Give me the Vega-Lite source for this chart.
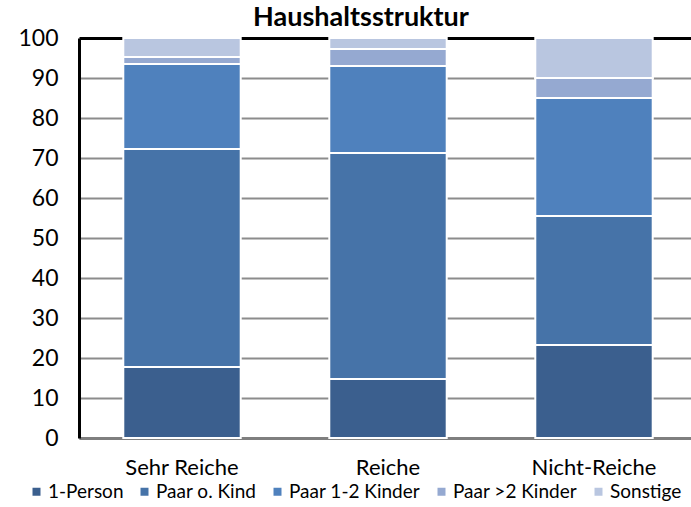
{
  "$schema": "https://vega.github.io/schema/vega-lite/v6.json",
  "autosize": "none",
  "width": 618,
  "height": 400,
  "padding": {"left": 79, "top": 38, "right": 0, "bottom": 69},
  "background": "white",
  "title": {
    "text": "Haushaltsstruktur",
    "font": "Lato",
    "fontSize": 27,
    "fontWeight": "bold",
    "color": "black",
    "anchor": "middle",
    "dx": -27,
    "dy": 8,
    "offset": 3
  },
  "data": {
    "values": [
      {"gruppe": "Sehr Reiche", "typ": "1-Person", "k": 1, "anteil": 17.75},
      {"gruppe": "Sehr Reiche", "typ": "Paar o. Kind", "k": 2, "anteil": 54.5},
      {"gruppe": "Sehr Reiche", "typ": "Paar 1-2 Kinder", "k": 3, "anteil": 21.25},
      {"gruppe": "Sehr Reiche", "typ": "Paar >2 Kinder", "k": 4, "anteil": 1.75},
      {"gruppe": "Sehr Reiche", "typ": "Sonstige", "k": 5, "anteil": 4.75},
      {"gruppe": "Reiche", "typ": "1-Person", "k": 1, "anteil": 14.75},
      {"gruppe": "Reiche", "typ": "Paar o. Kind", "k": 2, "anteil": 56.5},
      {"gruppe": "Reiche", "typ": "Paar 1-2 Kinder", "k": 3, "anteil": 21.75},
      {"gruppe": "Reiche", "typ": "Paar >2 Kinder", "k": 4, "anteil": 4.25},
      {"gruppe": "Reiche", "typ": "Sonstige", "k": 5, "anteil": 2.75},
      {"gruppe": "Nicht-Reiche", "typ": "1-Person", "k": 1, "anteil": 23.25},
      {"gruppe": "Nicht-Reiche", "typ": "Paar o. Kind", "k": 2, "anteil": 32.25},
      {"gruppe": "Nicht-Reiche", "typ": "Paar 1-2 Kinder", "k": 3, "anteil": 29.5},
      {"gruppe": "Nicht-Reiche", "typ": "Paar >2 Kinder", "k": 4, "anteil": 5},
      {"gruppe": "Nicht-Reiche", "typ": "Sonstige", "k": 5, "anteil": 10}
    ]
  },
  "mark": {"type": "bar", "stroke": "white", "strokeWidth": 2},
  "encoding": {
    "x": {
      "field": "gruppe",
      "type": "nominal",
      "sort": ["Sehr Reiche", "Reiche", "Nicht-Reiche"],
      "scale": {"paddingInner": 0.43, "paddingOuter": 0.215},
      "axis": {
        "title": null,
        "labelAngle": 0,
        "labelFont": "Lato",
        "labelFontSize": 22,
        "labelColor": "black",
        "labelPadding": 19,
        "ticks": false,
        "domainColor": "#7f7f7f",
        "domainWidth": 3
      }
    },
    "y": {
      "field": "anteil",
      "type": "quantitative",
      "stack": "zero",
      "scale": {"domain": [0, 100], "nice": false},
      "axis": {
        "title": null,
        "values": [0, 10, 20, 30, 40, 50, 60, 70, 80, 90, 100],
        "labelFont": "Lato",
        "labelFontSize": 23,
        "labelColor": "black",
        "labelPadding": 21,
        "ticks": false,
        "domainColor": "black",
        "domainWidth": 3,
        "gridColor": {"condition": {"test": "datum.value === 100", "value": "black"}, "value": "#8c8c8c"},
        "gridWidth": {"condition": {"test": "datum.value === 100", "value": 3}, "value": 2}
      }
    },
    "order": {"field": "k", "type": "quantitative"},
    "color": {
      "field": "typ",
      "type": "nominal",
      "scale": {
        "domain": ["1-Person", "Paar o. Kind", "Paar 1-2 Kinder", "Paar >2 Kinder", "Sonstige"],
        "range": ["#3b5f8e", "#4673a8", "#4f81bd", "#95a9d1", "#b9c6e0"]
      },
      "legend": {
        "title": null,
        "orient": "none",
        "direction": "horizontal",
        "legendX": -52,
        "legendY": 444,
        "symbolType": "square",
        "symbolSize": 64,
        "symbolStrokeWidth": 0,
        "labelFont": "Lato",
        "labelFontSize": 19,
        "labelColor": "black",
        "labelOffset": 2,
        "columnPadding": 11
      }
    }
  },
  "config": {"view": {"stroke": null}}
}
